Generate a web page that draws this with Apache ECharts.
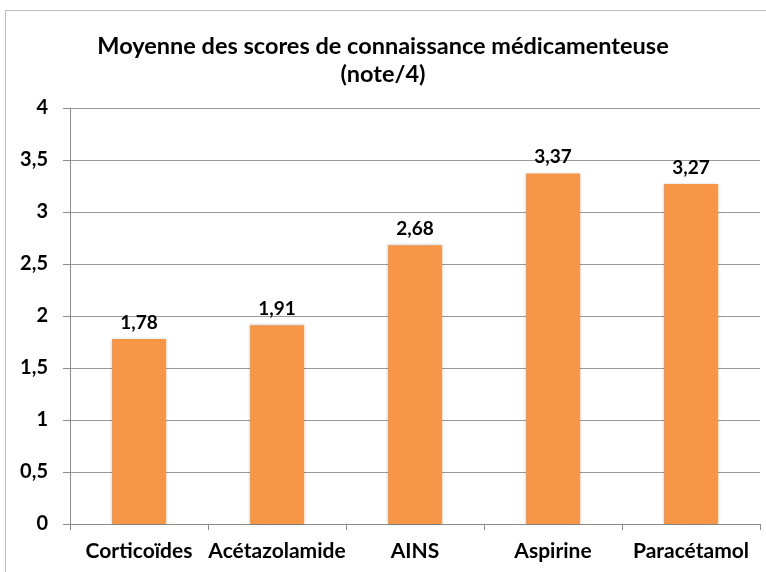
<!DOCTYPE html>
<html><head><meta charset="utf-8">
<script src="https://cdn.jsdelivr.net/npm/echarts@6/dist/echarts.min.js"></script>
<style>html,body{margin:0;padding:0;background:#fff}#c{width:766px;height:572px;}
#frame{position:absolute;left:5px;top:10px;width:780px;height:600px;border:1.5px solid #bdbdbd;pointer-events:none}</style>
</head><body>
<div id="c"></div><div id="frame"></div>
<script>
const categories = ['Corticoïdes', 'Acétazolamide', 'AINS', 'Aspirine', 'Paracétamol'];
const values = [1.78, 1.91, 2.68, 3.37, 3.27];
const titleText = 'Moyenne des scores de connaissance médicamenteuse\n(note/4)';
const fmt = v => String(v).replace('.', ',');
const font = 'Lato, "Open Sans", sans-serif';
const chart = echarts.init(document.getElementById('c'));
chart.setOption({
  animation: false,
  title: { text: titleText, left: 'center', top: 27,
    textStyle: { fontFamily: font, fontWeight: 'bold', fontSize: 23.5, lineHeight: 28, color: '#000' } },
  grid: { left: 70, right: 6, top: 108, bottom: 48 },
  xAxis: { type: 'category', data: categories,
    axisLine: { lineStyle: { color: '#8c8c8c', width: 1 } },
    axisTick: { show: true, length: 6, lineStyle: { color: '#8c8c8c' } },
    axisLabel: { fontFamily: font, fontWeight: 'bold', fontSize: 21, color: '#000', margin: 17, interval: 0 } },
  yAxis: { type: 'value', min: 0, max: 4, interval: 0.5,
    axisLine: { show: true, lineStyle: { color: '#8c8c8c', width: 1 } },
    axisTick: { show: true, length: 7, lineStyle: { color: '#8c8c8c' } },
    splitLine: { show: true, lineStyle: { color: '#9a9a9a', width: 1 } },
    axisLabel: { fontFamily: font, fontWeight: 'bold', fontSize: 20, color: '#000', margin: 22, formatter: fmt } },
  series: [{ type: 'bar', data: values, barWidth: 54,
    itemStyle: { color: '#F79646', shadowColor: 'rgba(0,0,0,0.25)', shadowBlur: 3 },
    label: { show: true, position: 'top', distance: 7, formatter: p => fmt(p.value),
      fontFamily: font, fontWeight: 'bold', fontSize: 19, color: '#000' } }]
});
</script></body></html>
